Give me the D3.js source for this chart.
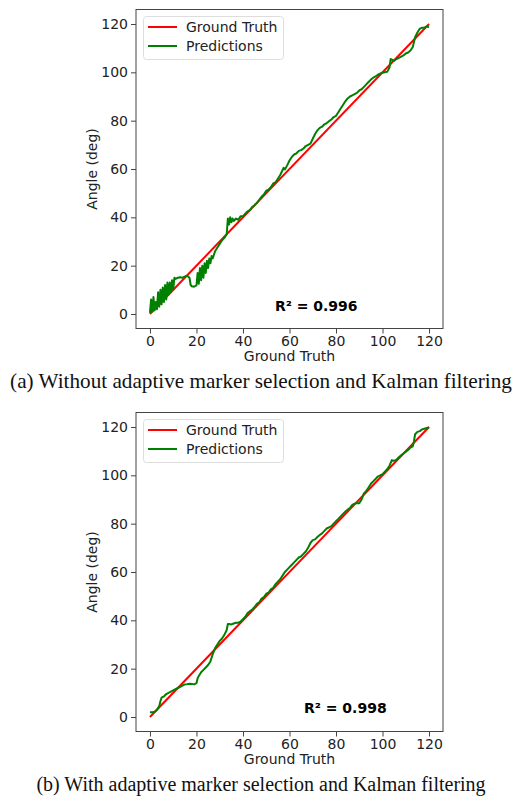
<!DOCTYPE html>
<html>
<head>
<meta charset="utf-8">
<script src="https://cdn.jsdelivr.net/npm/d3@7"></script>
<style>
  body { margin: 0; background: #fff; }
  svg { display: block; }
</style>
</head>
<body>
<script>
// ---------- DATA ----------
const groundTruth = [0, 120];   // ideal line endpoints (x = y)
const xTicks = [0, 20, 40, 60, 80, 100, 120];
const yTicks = [0, 20, 40, 60, 80, 100, 120];

// Panel (a): predictions without adaptive marker selection / Kalman filtering
const predAx = [0,0.5,1,1.5,2,2.5,3,3.5,4,4.5,5,5.5,6,6.5,7,7.5,8,8.5,9,9.5,10,10.5,11,12,13,14,15,16,17,17.5,18,19,20,20.5,21,21.5,22,22.5,23,23.5,24,24.5,25,25.5,26,26.5,27,28,29,30,31,32,33,33.5,34,34.5,35,35.5,36,37,38,39,40,41,42,43,44,45,46,47,48,49,50,51,52,53,54,55,56,57,57.5,58,59,60,61,62,63,64,65,66,67,68,69,70,71,72,73,74,75,76,77,78,79,80,81,82,83,84,85,86,87,88,89,90,91,92,93,94,95,96,97,98,99,100,101,102,103,103.5,104.5,105,106,107,108,109,110,111,112,113,114,115,116,117,118,119,120];
const predAy = [0.5,6,1,7,1.5,5,2,9,3,10,4,11,5,12,6,13,8,13,9,14,10,15,14.5,15,15.2,15,15.5,15.8,15,12,11.5,11.3,11.8,17,12.5,19,14,20,15,21,17,22,19,23,21,24,23,26,27.5,29,30.5,31.5,33,39.5,37,40,38,39.5,38.5,39.5,39,40.5,40.5,41.5,42.5,43,44.3,45,46,47.2,48.5,49.5,51,51.5,52.5,54,54.5,56,57.5,59.5,60.5,59.8,61.5,63.5,65,66,66.5,67.5,67.8,68.5,69.5,70,70.5,72.5,74.5,76,77,77.5,78.5,79,79.8,80.5,81.5,82,83.5,85,86.5,88,89.2,90,90.5,91,91.5,92.5,93,94,95,96,97,97.8,98.3,99,99.5,99.8,100,100.2,102,105.5,105,104.8,105.5,106,106.5,107,107.8,108.2,109,110.5,114.5,116.5,118,118.5,118.5,119,118.8];

// Panel (b): predictions with adaptive marker selection / Kalman filtering
const predBx = [0,1,2,3,4,4.5,5,6,7,8,9,10,11,12,13,14,15,16,17,18,19,20,20.5,21,22,23,24,25,26,27,28,29,30,31,32,33,33.5,34,35,36,37,38,39,40,41,42,43,44,45,46,47,48,49,50,51,52,53,54,55,56,57,58,59,60,61,62,63,64,65,66,67,68,69,70,71,72,73,74,75,76,77,78,79,80,81,82,83,84,85,86,87,88,89,90,91,92,93,94,95,96,97,98,99,100,101,102,103,104,105,106,107,108,109,110,111,112,113,113.5,114,115,116,117,118,119,120];
const predBy = [2,2,2.2,3,4.5,6.5,8,8.5,9.5,10,10.5,11,11.5,12,12.5,13,13.5,13.6,13.8,13.7,13.5,14,16,17,18.5,19.5,20.5,21.5,23,26,28.5,30,31.5,32.5,34,36,38.5,38.5,38.3,38.7,39,39,39.5,40.5,41.5,43,43.8,44.5,45.5,46.8,47.5,49,49.6,51,51.5,52.8,53.5,55,56,57,58.5,60,61,62,63,64,65,66,66.5,67.5,68.5,70,72,73.2,73.5,74.5,75.3,76,77,78,78.5,79,80,81,82,83,84,85,85.8,86.5,87.8,88.3,88.5,88.5,90,92.5,93.5,95,96.5,97.5,98.5,99.5,100,100.5,101.5,102.5,104,106.3,106,106.5,107.5,108.3,109,109.8,110.5,111.5,112,114,117,118,118.3,119,119.3,119.6,119.8];

const panels = [
  { px: predAx, py: predAy, r2: "R² = 0.996", r2x: 71.5, r2y: 3.4, caption: "(a) Without adaptive marker selection and Kalman filtering", capSize: 21.2, dy: 0 },
  { px: predBx, py: predBy, r2: "R² = 0.998", r2x: 84, r2y: 3.6, caption: "(b) With adaptive marker selection and Kalman filtering", capSize: 20, dy: 403 }
];

// ---------- DRAW ----------
const W = 518, H = 802;
const svg = d3.select("body").append("svg").attr("width", W).attr("height", H);
const font = "'DejaVu Sans', sans-serif";
const fs = 14;

panels.forEach(p => {
  const g = svg.append("g").attr("transform", `translate(0,${p.dy})`);
  const x = d3.scaleLinear().domain([-6, 126]).range([136, 443]);
  const y = d3.scaleLinear().domain([-6, 126]).range([328.5, 9.5]);

  // ground truth
  g.append("line")
    .attr("x1", x(groundTruth[0])).attr("y1", y(groundTruth[0]))
    .attr("x2", x(groundTruth[1])).attr("y2", y(groundTruth[1]))
    .attr("stroke", "#ff0000").attr("stroke-width", 2);

  const pts = p.px.map((v, i) => [v, p.py[i]]);
  g.append("path").datum(pts)
    .attr("d", d3.line().x(d => x(d[0])).y(d => y(d[1])))
    .attr("fill", "none").attr("stroke", "#008000").attr("stroke-width", 2)
    .attr("stroke-linejoin", "round");

  // spines
  g.append("rect").attr("x", 136).attr("y", 9.5).attr("width", 307).attr("height", 319)
    .attr("fill", "none").attr("stroke", "#444").attr("stroke-width", 1);

  // axes
  const xa = g.append("g").attr("transform", "translate(0,328.5)")
    .call(d3.axisBottom(x).tickValues(xTicks).tickSize(5).tickPadding(3).tickFormat(d3.format("d")));
  const ya = g.append("g").attr("transform", "translate(136,0)")
    .call(d3.axisLeft(y).tickValues(yTicks).tickSize(5).tickPadding(3).tickFormat(d3.format("d")));
  [xa, ya].forEach(a => {
    a.select(".domain").remove();
    a.selectAll("line").attr("stroke", "#444");
    a.selectAll("text").attr("font-family", font).attr("font-size", fs).attr("fill", "#222");
  });

  g.append("text").attr("x", 289.5).attr("y", 361).attr("text-anchor", "middle")
    .attr("font-family", font).attr("font-size", fs).attr("fill", "#222").text("Ground Truth");
  g.append("text").attr("transform", "translate(97,169) rotate(-90)").attr("text-anchor", "middle")
    .attr("font-family", font).attr("font-size", fs).attr("fill", "#222").text("Angle (deg)");

  // R² annotation
  g.append("text").attr("x", x(p.r2x)).attr("y", y(p.r2y)).attr("dy", "0.35em")
    .attr("text-anchor", "middle").attr("font-family", font).attr("font-size", fs)
    .attr("font-weight", "bold").attr("fill", "#000").text(p.r2);

  // legend
  const lg = g.append("g");
  lg.append("rect").attr("x", 143.5).attr("y", 16.5).attr("width", 140).attr("height", 43).attr("rx", 3)
    .attr("fill", "#fff").attr("fill-opacity", 0.8).attr("stroke", "#ddd");
  [["Ground Truth", "#ff0000", 27], ["Predictions", "#008000", 46]].forEach(([t, c, yy]) => {
    lg.append("line").attr("x1", 148).attr("x2", 177).attr("y1", yy).attr("y2", yy)
      .attr("stroke", c).attr("stroke-width", 2);
    lg.append("text").attr("x", 186).attr("y", yy).attr("dy", "0.35em")
      .attr("font-family", font).attr("font-size", fs).attr("fill", "#222").text(t);
  });

  // caption
  g.append("text").attr("x", 261).attr("y", 388).attr("text-anchor", "middle")
    .attr("font-family", "'Liberation Serif', 'Times New Roman', serif").attr("font-size", p.capSize)
    .attr("fill", "#111").text(p.caption);
});
</script>
</body>
</html>
